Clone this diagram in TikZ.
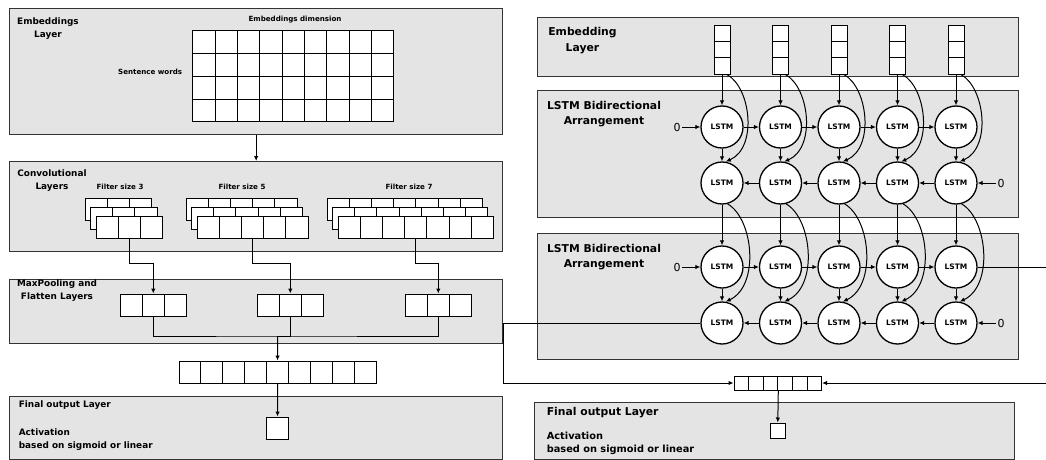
\documentclass[tikz,border=0pt]{standalone}
\usepackage{fontspec}
\setmainfont{DejaVu Sans}
\usetikzlibrary{arrows.meta}

\tikzset{
  panel/.style={draw=black!80,line width=1.3pt,fill=gray!21,anchor=north west,inner sep=0pt},
  cell/.style={draw,fill=white,inner sep=0pt,minimum width=22.2pt,minimum height=22pt},
  vcell/.style={draw,fill=white,inner sep=0pt,minimum size=16pt},
  kcell/.style={draw,fill=white,inner sep=0pt,minimum width=14.6pt,minimum height=14pt},
  lstm/.style={circle,draw,line width=1.3pt,fill=white,inner sep=0pt,minimum size=42pt,font=\bfseries\fontsize{7.5}{9}\selectfont},
  zero/.style={inner sep=1pt,font=\fontsize{11}{13}\selectfont},
  ltitle/.style={align=center,font=\bfseries\fontsize{8.9}{13}\selectfont},
  lnote/.style={font=\bfseries\fontsize{7.1}{8}\selectfont},
  rtitle/.style={align=center,font=\bfseries\fontsize{10.8}{15.5}\selectfont},
}

\begin{document}
\begin{tikzpicture}[x=1pt,y=-1pt,line width=1pt,>={Latex[length=5pt,width=4.5pt]}]
\useasboundingbox (0,0) rectangle (1046,460);

% CNN branch
\node[panel,minimum width=493pt,minimum height=126pt] (P1) at (9,8) {};
\node[panel,minimum width=493pt,minimum height=90pt] (P2) at (9,161) {};
\node[panel,minimum width=493pt,minimum height=64pt] (P3) at (9,279) {};
\node[panel,minimum width=493pt,minimum height=63pt] (P4) at (9,396) {};

\node[ltitle] (tP1) at (48,29) {Embeddings\\Layer};
\node[ltitle] (tP2) at (52,181) {Convolutional\\Layers};
\node[ltitle] (tP3) at (57,291) {MaxPooling and\\Flatten Layers};
\node[ltitle,anchor=west] (tP4) at (15,405) {Final output Layer};
\node[ltitle,align=left,anchor=west] (act) at (15,440) {Activation\\based on sigmoid or linear};

\node[lnote] (dim) at (295,20) {Embeddings dimension};
\node[lnote,anchor=east] (sw) at (186,72) {Sentence words};
\node[lnote] (fs3) at (120,187) {Filter size 3};
\node[lnote] (fs5) at (242,187) {Filter size 5};
\node[lnote] (fs7) at (409,187) {Filter size 7};

\foreach \r in {1,...,4}
  \foreach \c in {1,...,9}
    \node[cell,minimum width=22.33pt,minimum height=22.75pt] (G\r\c) at (181.8+22.33*\c,19.6+22.75*\r) {};

\foreach \n/\fx/\t in {3/96/A,5/197/B,7/338/C}
  \foreach \l/\d in {a/0,b/1,c/2}
    \foreach \c in {1,...,\n}
      \node[cell] (F\t\l\c) at (\fx-22.1+5.5*\d+22.2*\c,209+9*\d) {};

\foreach \t/\x in {A/120,B/257,C/405}
  \foreach \c in {1,2,3}
    \node[cell] (M\t\c) at (\x-11.1+22.2*\c,305) {};

\foreach \c in {1,...,9}
  \node[cell,minimum width=21.9pt] (L\c) at (168.05+21.9*\c,372) {};
\node[cell,minimum width=22pt] (O) at (277.55,428) {};

\draw[->] (P1) -- (P2);
\draw[->] (FAc2.south) -- ++(0,25) -| (MA2.north);
\draw[->] (FBc3.south) -- ++(0,25) -| (MB2.north);
\draw[->] (FCc4.south) -- ++(0,25) -| (MC2.north);
\coordinate (J) at (277.55,336);
\draw (MA2.south) |- (J) -| (MC2.south);
\draw (MB2.south) |- (J);
\draw[->] (J) -- (L5.north);
\draw[->] (L5.south) -- (O.north);

% LSTM branch
\node[panel,minimum width=481pt,minimum height=59pt] (R1) at (537,17) {};
\node[panel,minimum width=481pt,minimum height=127pt] (R2) at (537,90) {};
\node[panel,minimum width=481pt,minimum height=126pt] (R3) at (537,233) {};
\node[panel,minimum width=480pt,minimum height=57pt] (R4) at (534,402) {};

\node[rtitle] (tR1) at (582.5,40.5) {Embedding\\Layer};
\node[rtitle] (tR2) at (604,114) {LSTM Bidirectional\\Arrangement};
\node[rtitle] (tR3) at (604,257) {LSTM Bidirectional\\Arrangement};
\node[rtitle,anchor=west] (tR4) at (543,413) {Final output Layer};
\node[align=left,anchor=west,font=\bfseries\fontsize{9.8}{13}\selectfont] (ract) at (543,443.5) {Activation\\based on sigmoid or linear};

\foreach \i in {1,...,5} {
  \foreach \r in {1,2,3}
    \node[vcell] (V\i\r) at (663.5+58.5*\i,18+16*\r) {};
  \node[lstm] (A\i) at (663.5+58.5*\i,127) {LSTM};
  \node[lstm] (B\i) at (663.5+58.5*\i,183) {LSTM};
  \node[lstm] (C\i) at (663.5+58.5*\i,267) {LSTM};
  \node[lstm] (D\i) at (663.5+58.5*\i,323) {LSTM};
}

\node[zero] (zA) at (677,127) {0};
\node[zero] (zB) at (1001,183) {0};
\node[zero] (zC) at (677,267) {0};
\node[zero] (zD) at (1001,323) {0};
\draw[->] (zA) -- (A1);
\draw[->] (zB) -- (B5);
\draw[->] (zC) -- (C1);
\draw[->] (zD) -- (D5);

\foreach \i [count=\j from 2] in {1,...,4} {
  \draw[->] (A\i) -- (A\j);
  \draw[->] (B\j) -- (B\i);
  \draw[->] (C\i) -- (C\j);
  \draw[->] (D\j) -- (D\i);
}

\foreach \i in {1,...,5} {
  \draw[->] (V\i3) -- (A\i);
  \draw[->] (V\i3.-60) .. controls +(24,13) and +(32,-14) .. (B\i.80);
  \draw[->] (A\i) -- (B\i);
  \draw[->] (B\i) -- (C\i);
  \draw[->] (B\i.-75) .. controls +(26,15) and +(34,-16) .. (D\i.80);
  \draw[->] (C\i) -- (D\i);
}

\foreach \c in {1,...,6}
  \node[kcell] (K\c) at (726.7+14.6*\c,383) {};
\node[kcell,minimum width=15pt,minimum height=15pt] (Q) at (777.8,430.5) {};

\coordinate (Lt) at (503,383);
\coordinate (Rt) at (1052,383);
\draw[->] (D1) -| (Lt) -- (K1.west);
\draw[->] (C5) -| (Rt) -- (K6.east);
\draw[->] (K3.south east) -- (Q.north);
\end{tikzpicture}
\end{document}
